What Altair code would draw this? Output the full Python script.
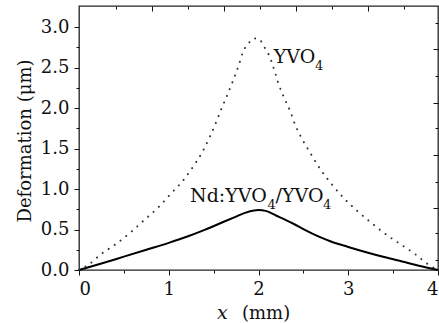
import altair as alt
import pandas as pd

# YVO4 (dotted) curve
yvo_x = [0.00, 0.10, 0.25, 0.41, 0.57, 0.72, 0.88, 1.03, 1.17, 1.28, 1.38, 1.46, 1.53, 1.59,
         1.66, 1.72, 1.78, 1.83, 1.89, 1.95, 2.01, 2.06, 2.11, 2.17, 2.22, 2.28, 2.35, 2.41,
         2.49, 2.58, 2.68, 2.80, 2.94, 3.10, 3.26, 3.42, 3.58, 3.74, 3.89, 4.00]
yvo_y = [0.00, 0.06, 0.20, 0.32, 0.46, 0.61, 0.77, 0.95, 1.12, 1.29, 1.47, 1.65, 1.83, 2.00,
         2.18, 2.35, 2.53, 2.70, 2.80, 2.86, 2.85, 2.76, 2.67, 2.49, 2.31, 2.14, 1.97, 1.79,
         1.61, 1.44, 1.26, 1.08, 0.90, 0.73, 0.58, 0.44, 0.32, 0.20, 0.07, 0.00]

# Nd:YVO4/YVO4 (solid) curve
nd_x = [0.00, 0.25, 0.50, 0.75, 1.00, 1.20, 1.40, 1.60, 1.75, 1.85, 1.95, 2.00, 2.08, 2.20,
        2.30, 2.40, 2.50, 2.60, 2.70, 2.80, 3.00, 3.20, 3.40, 3.60, 3.80, 4.00]
nd_y = [0.00, 0.08, 0.165, 0.25, 0.335, 0.41, 0.495, 0.59, 0.66, 0.705, 0.735, 0.74, 0.73,
        0.67, 0.62, 0.565, 0.505, 0.45, 0.40, 0.355, 0.285, 0.22, 0.16, 0.105, 0.05, 0.00]

# axis ticks
x_major = [0, 1, 2, 3, 4]
x_minor = [0.5, 1.5, 2.5, 3.5]
y_major = [0.0, 0.5, 1.0, 1.5, 2.0, 2.5, 3.0]
y_minor = [0.25, 0.75, 1.25, 1.75, 2.25, 2.75]
top_long = [0.81, 1.616, 2.414, 3.223]
top_short = [0.409, 1.218, 2.017, 2.819, 3.621]
right_long = [2.725, 2.065, 1.42, 0.762]
right_short = [3.046, 2.395, 1.749, 1.09, 0.453, 0.128]

# annotations
ann_text = ["YVO", "Nd:YVO", "/YVO"]
ann_x = [2.17, 1.237, 2.19]
ann_y = [2.556, 0.84, 0.84]
sub_text = ["4", "4", "4"]
sub_x = [2.63, 2.10, 2.72]
sub_y = [2.47, 0.753, 0.753]

FONT = "DejaVu Serif"
xs = alt.Scale(domain=[0, 4], nice=False, zero=False)
ys = alt.Scale(domain=[0, 3.26], nice=False, zero=False)


def ax(orient, values, size, labels=False, offset=0, fmt=None):
    kw = dict(orient=orient, values=values, tickSize=size, labels=labels, domain=False,
              grid=False, title=None, tickColor="#111", tickWidth=1, offset=offset)
    if labels:
        kw.update(labelFont=FONT, labelFontSize=18, labelColor="#111", labelPadding=5)
        if fmt:
            kw["format"] = fmt
    return alt.Axis(**kw)


df_nd = pd.DataFrame({"x": nd_x, "y": nd_y})
df_yvo = pd.DataFrame({"x": yvo_x, "y": yvo_y})
df_ann = pd.DataFrame({"t": ann_text, "x": ann_x, "y": ann_y})
df_sub = pd.DataFrame({"t": sub_text, "x": sub_x, "y": sub_y})

solid = alt.Chart(df_nd).mark_line(color="#000", strokeWidth=2, interpolate="monotone").encode(
    x=alt.X("x:Q", scale=xs, axis=ax("bottom", x_major, 5, labels=True, fmt="d")),
    y=alt.Y("y:Q", scale=ys, axis=ax("left", y_major, 5, labels=True, fmt=".1f")),
)

dotted = alt.Chart(df_yvo).mark_line(color="#333", strokeWidth=2, strokeDash=[0.1, 7.2],
                                     strokeCap="round", interpolate="monotone").encode(
    x=alt.X("x:Q", scale=xs, axis=ax("bottom", x_minor, 3)),
    y=alt.Y("y:Q", scale=ys, axis=ax("left", y_minor, 3)),
)

ann = alt.Chart(df_ann).mark_text(font=FONT, fontSize=19, align="left",
                                  baseline="alphabetic", color="#111").encode(
    x=alt.X("x:Q", scale=xs, axis=ax("top", top_long, 5, offset=-5)),
    y=alt.Y("y:Q", scale=ys, axis=ax("right", right_long, 5, offset=-5)),
    text="t:N",
)

sub = alt.Chart(df_sub).mark_text(font=FONT, fontSize=13, align="left",
                                  baseline="alphabetic", color="#111").encode(
    x=alt.X("x:Q", scale=xs, axis=ax("top", top_short, 3, offset=-3)),
    y=alt.Y("y:Q", scale=ys, axis=ax("right", right_short, 3, offset=-3)),
    text="t:N",
)

ytitle = alt.Chart(pd.DataFrame({"t": ["Deformation (μm)"]})).mark_text(
    font=FONT, fontSize=18, angle=270, align="center", baseline="alphabetic", color="#111"
).encode(x=alt.value(-48), y=alt.value(135), text="t:N")

xt1 = alt.Chart(pd.DataFrame({"t": ["x"]})).mark_text(
    font=FONT, fontSize=19, fontStyle="italic", align="left", baseline="alphabetic", color="#111"
).encode(x=alt.value(138), y=alt.value(313), text="t:N")

xt2 = alt.Chart(pd.DataFrame({"t": ["(mm)"]})).mark_text(
    font=FONT, fontSize=18, align="left", baseline="alphabetic", color="#111"
).encode(x=alt.value(163), y=alt.value(313), text="t:N")

chart = alt.layer(solid, dotted, ann, sub, ytitle, xt1, xt2).resolve_axis(
    x="independent", y="independent"
).properties(
    width=359, height=264,
    autosize=alt.AutoSizeParams(type="none"),
    padding={"left": 79, "top": 6, "right": 1, "bottom": 53},
    background="white",
).configure_view(stroke="#222", strokeWidth=1.3)

chart.save("out.html", embed_options={"renderer": "svg", "actions": False})
